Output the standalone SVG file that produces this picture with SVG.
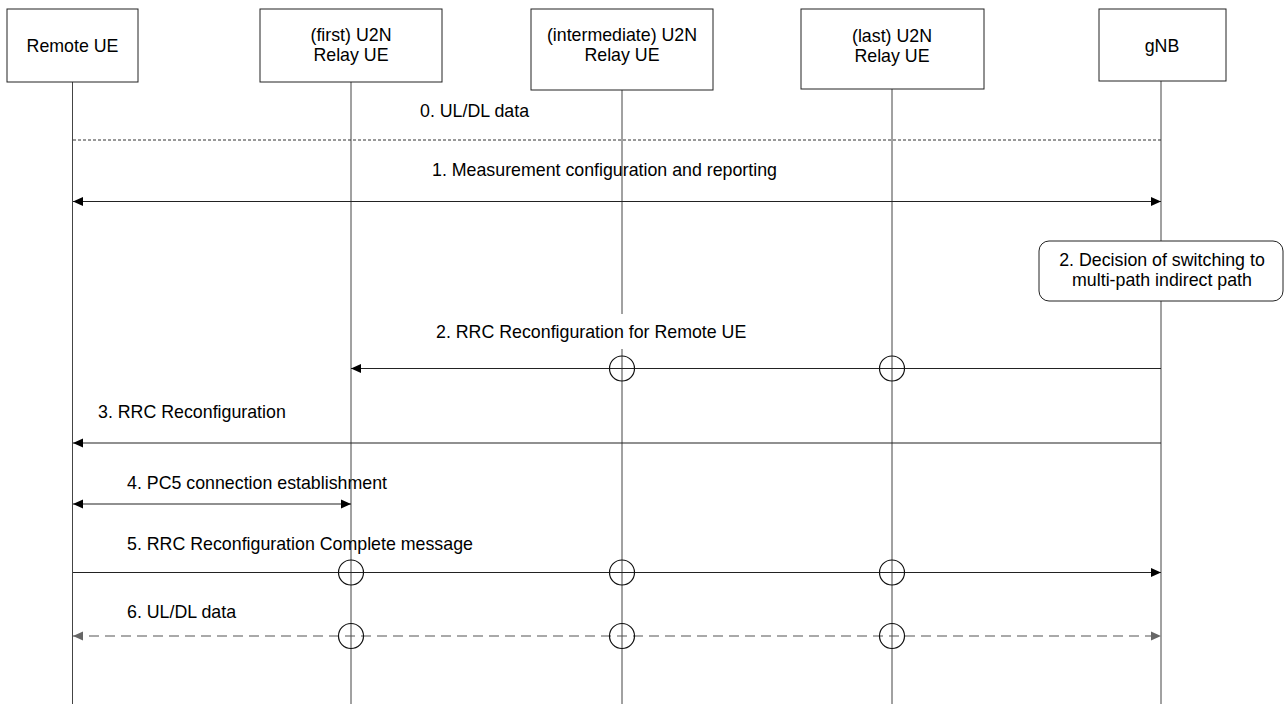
<svg xmlns="http://www.w3.org/2000/svg" width="1284" height="704" viewBox="0 0 1284 704">
<style>
  text { font-family: "Liberation Sans", Arial, sans-serif; font-size: 17.8px; fill: #000; }
  .box { fill: #fff; stroke: #222; stroke-width: 1; }
  .life { stroke: #444; stroke-width: 1; fill: none; }
  .msg { stroke: #222; stroke-width: 1.2; fill: none; }
  .dash0 { stroke: #333; stroke-width: 1; stroke-dasharray: 3 2; fill: none; }
  .dash6 { stroke: #555; stroke-width: 1.2; stroke-dasharray: 10 6; fill: none; }
  .cross { fill: none; stroke: #111; stroke-width: 1.2; }
  .c { text-anchor: middle; }
</style>
<defs>
  <marker id="ah" viewBox="0 0 10 10" refX="10" refY="5" markerWidth="10" markerHeight="10" markerUnits="userSpaceOnUse" orient="auto-start-reverse">
    <path d="M0,0.5 L10,5 L0,9.5 z" fill="#000"/>
  </marker>
  <marker id="ahg" viewBox="0 0 10 10" refX="10" refY="5" markerWidth="10" markerHeight="10" markerUnits="userSpaceOnUse" orient="auto-start-reverse">
    <path d="M0,0.5 L10,5 L0,9.5 z" fill="#666"/>
  </marker>
</defs>
<rect width="1284" height="704" fill="#fff"/>

<g id="lifelines">
  <line class="life" x1="72.5" y1="82" x2="72.5" y2="704"/>
  <line class="life" x1="351" y1="82" x2="351" y2="704"/>
  <line class="life" x1="622" y1="90" x2="622" y2="314"/>
  <line class="life" x1="622" y1="349" x2="622" y2="704"/>
  <line class="life" x1="892" y1="89" x2="892" y2="704"/>
  <line class="life" x1="1161" y1="81" x2="1161" y2="704"/>
</g>

<g id="node-remote-ue">
  <rect class="box" x="7" y="9" width="131" height="73"/>
  <text class="c" x="72.5" y="51.5">Remote UE</text>
</g>
<g id="node-first-relay">
  <rect class="box" x="260" y="9" width="182" height="73"/>
  <text class="c" x="351" y="40.5">(first) U2N</text>
  <text class="c" x="351" y="60.5">Relay UE</text>
</g>
<g id="node-intermediate-relay">
  <rect class="box" x="531" y="9" width="182" height="81"/>
  <text class="c" x="622" y="41">(intermediate) U2N</text>
  <text class="c" x="622" y="60.5">Relay UE</text>
</g>
<g id="node-last-relay">
  <rect class="box" x="801" y="9" width="183" height="80"/>
  <text class="c" x="892" y="42">(last) U2N</text>
  <text class="c" x="892" y="62">Relay UE</text>
</g>
<g id="node-gnb">
  <rect class="box" x="1099" y="9" width="127" height="72"/>
  <text class="c" x="1162" y="51.5">gNB</text>
</g>
<g id="node-decision">
  <rect class="box" x="1039" y="241" width="244" height="60" rx="10" ry="10"/>
  <text class="c" x="1162" y="266">2. Decision of switching to</text>
  <text class="c" x="1162" y="286">multi-path indirect path</text>
</g>

<g id="connectors">
  <line class="dash0" x1="73" y1="140" x2="1161" y2="140"/>
  <line class="msg" x1="73" y1="201.5" x2="1161" y2="201.5" marker-start="url(#ah)" marker-end="url(#ah)"/>
  <line class="msg" x1="1161" y1="368.5" x2="351" y2="368.5" marker-end="url(#ah)"/>
  <line class="msg" x1="1161" y1="443" x2="73" y2="443" marker-end="url(#ah)"/>
  <line class="msg" x1="73" y1="504" x2="351" y2="504" marker-start="url(#ah)" marker-end="url(#ah)"/>
  <line class="msg" x1="73" y1="572.5" x2="1161" y2="572.5" marker-end="url(#ah)"/>
  <line class="dash6" x1="73" y1="636" x2="1161" y2="636" marker-start="url(#ahg)" marker-end="url(#ahg)"/>
  <circle class="cross" cx="622" cy="368.5" r="12.5"/>
  <circle class="cross" cx="892" cy="368.5" r="12.5"/>
  <circle class="cross" cx="351" cy="572.5" r="12.5"/>
  <circle class="cross" cx="622" cy="572.5" r="12.5"/>
  <circle class="cross" cx="892" cy="572.5" r="12.5"/>
  <circle class="cross" cx="351" cy="636" r="12.5"/>
  <circle class="cross" cx="622" cy="636" r="12.5"/>
  <circle class="cross" cx="892" cy="636" r="12.5"/>
</g>

<g id="labels">
  <text x="420" y="117">0. UL/DL data</text>
  <text x="432" y="175.5">1. Measurement configuration and reporting</text>
  <text x="436" y="337.5">2. RRC Reconfiguration for Remote UE</text>
  <text x="98" y="418">3. RRC Reconfiguration</text>
  <text x="127" y="489">4. PC5 connection establishment</text>
  <text x="127" y="550">5. RRC Reconfiguration Complete message</text>
  <text x="127" y="618">6. UL/DL data</text>
</g>
</svg>
